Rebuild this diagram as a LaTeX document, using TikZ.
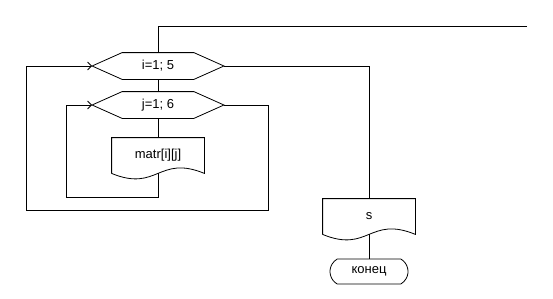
\documentclass[tikz,border=0pt]{standalone}
\usepackage{fontspec}
\setmainfont{Liberation Sans}
\usetikzlibrary{arrows.meta,shapes.misc}
\definecolor{linecolor}{RGB}{0,0,0}

\tikzset{
  % loop header (hexagon)
  loopbox/.style={minimum width=131pt, minimum height=26pt, inner sep=0pt,
    append after command={\pgfextra{\draw
      (\tikzlastnode.west) -- ([xshift=30pt]\tikzlastnode.north west)
      -- ([xshift=-30pt]\tikzlastnode.north east) -- (\tikzlastnode.east)
      -- ([xshift=-30pt]\tikzlastnode.south east)
      -- ([xshift=30pt]\tikzlastnode.south west) -- cycle;}}},
  % output (document with wavy bottom)
  docbox/.style={minimum width=92pt, minimum height=35pt, inner sep=0pt,
    append after command={\pgfextra{\draw
      (\tikzlastnode.south west) -- (\tikzlastnode.north west)
      -- (\tikzlastnode.north east) -- (\tikzlastnode.south east)
      .. controls +(-46,-19) and +(46,19) .. (\tikzlastnode.south west);}}},
  endbox/.style={draw, rounded rectangle, rounded rectangle arc length=120,
    minimum width=78pt, minimum height=25pt, inner sep=0pt},
  arr/.style={-{Straight Barb[length=4pt,width=8pt]}}
}

\begin{document}
\begin{tikzpicture}[x=1pt, y=-1pt, line width=0.8pt, draw=linecolor,
    font=\fontsize{13}{15}\selectfont]
    \useasboundingbox (0,0) rectangle (553,298);

    % Blocks
    \coordinate (entry) at (527,26);
    \node[loopbox] (loopi) at (158,66) {i=1; 5};
    \node[loopbox] (loopj) at (158,105) {j=1; 6};
    \node[docbox] (matr) at (158,155.5) {matr[i][j]};
    \node[docbox] (outs) at (369,216.5) {s};
    \node[endbox] (stop) at (369,271.5) {конец};

    % Flow lines
    \draw (entry) -| (loopi.north);
    \draw (loopi.south) -- (loopj.north);
    \draw (loopj.south) -- (matr.north);
    \draw[arr] (matr.south) |- (66,197) |- (loopj.west);
    \draw[arr] (loopj.east) -| (268,210) -| (26,66) -- (loopi.west);
    \draw (loopi.east) -| (outs.north);
    \draw (outs.south) -- (stop.north);
\end{tikzpicture}
\end{document}
